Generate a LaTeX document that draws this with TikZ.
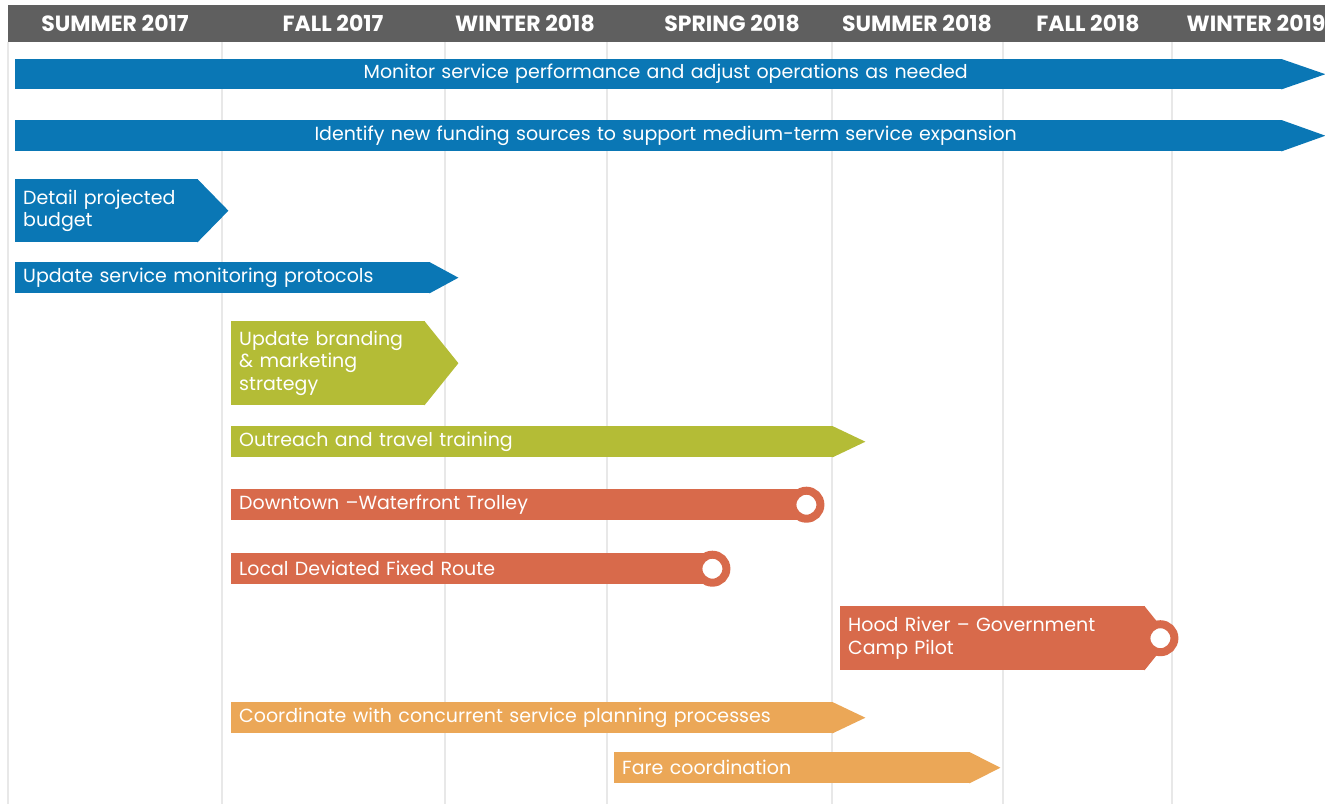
\documentclass[tikz,border=0pt]{standalone}
\usepackage{fontspec}
\setmainfont{Poppins}
\usepackage{tikz}
\usetikzlibrary{positioning}
\definecolor{headgray}{HTML}{5F5F5F}
\definecolor{gridgray}{HTML}{E8E8E8}
\definecolor{blueb}{HTML}{0A77B5}
\definecolor{greenb}{HTML}{B4BC36}
\definecolor{redb}{HTML}{D86A4B}
\definecolor{orangeb}{HTML}{EBA757}
\tikzstyle{task} = [rectangle, anchor=north west, inner xsep=8pt, inner ysep=0pt, align=left, text=white, font=\fontsize{19}{22.5}\selectfont]
\tikzstyle{season} = [text=white, font=\fontsize{22}{24}\selectfont\bfseries]
\tikzstyle{ring} = [circle, fill=white, draw=redb, line width=8pt, minimum size=28pt, inner sep=0pt]
\tikzstyle{gridline} = [draw=gridgray, line width=1.5pt]

\begin{document}
\begin{tikzpicture}[x=1pt, y=-1pt]
		\useasboundingbox (0,0) rectangle (1325,804);
		
		% season columns
		\foreach \x in {8,222,445,607,832,1003,1172}
			\draw [gridline] (\x,42) -- (\x,804);
		\fill [headgray] (8,5) rectangle (1325,42);
		\node (s1) [season] at (115,23) {SUMMER 2017};
		\node (s2) [season] at (333,23) {FALL 2017};
		\node (s3) [season] at (525,23) {WINTER 2018};
		\node (s4) [season] at (732,23) {SPRING 2018};
		\node (s5) [season] at (917,23) {SUMMER 2018};
		\node (s6) [season] at (1088,23) {FALL 2018};
		\node (s7) [season] at (1256,23) {WINTER 2019};
		
		% blue tasks
		\node (monitor) [task, fill=blueb, align=center, text width=1251pt, minimum height=30pt] at (15,59) {\hspace*{34pt}Monitor service performance and adjust operations as needed};
		\node (funding) [task, fill=blueb, align=center, text width=1251pt, minimum height=31pt] at (15,120) {\hspace*{34pt}Identify new funding sources to support medium-term service expansion};
		\node (budget) [task, fill=blueb, text width=167pt, minimum height=63pt] at (15,179) {Detail projected\\budget};
		\node (protocols) [task, fill=blueb, text width=399pt, minimum height=31pt] at (15,262) {Update service monitoring protocols};
		\fill [blueb] ([xshift=-1pt]monitor.north east) -- ([xshift=43pt]monitor.east) -- ([xshift=-1pt]monitor.south east) -- cycle;
		\fill [blueb] ([xshift=-1pt]funding.north east) -- ([xshift=43pt]funding.east) -- ([xshift=-1pt]funding.south east) -- cycle;
		\fill [blueb] ([xshift=-1pt]budget.north east) -- ([xshift=30pt]budget.east) -- ([xshift=-1pt]budget.south east) -- cycle;
		\fill [blueb] ([xshift=-1pt]protocols.north east) -- ([xshift=28pt]protocols.east) -- ([xshift=-1pt]protocols.south east) -- cycle;
		
		% green tasks
		\node (branding) [task, fill=greenb, text width=178pt, minimum height=84pt] at (231,321) {Update branding\\\& marketing\\strategy};
		\node (outreach) [task, fill=greenb, text width=586pt, minimum height=31pt] at (231,426) {Outreach and travel training};
		\fill [greenb] ([xshift=-1pt]branding.north east) -- ([xshift=33pt]branding.east) -- ([xshift=-1pt]branding.south east) -- cycle;
		\fill [greenb] ([xshift=-1pt]outreach.north east) -- ([xshift=32pt]outreach.east) -- ([xshift=-1pt]outreach.south east) -- cycle;
		
		% service pilots
		\node (trolley) [task, fill=redb, text width=559pt, minimum height=31pt] at (231,489) {Downtown --Waterfront Trolley};
		\node (route) [task, fill=redb, text width=465pt, minimum height=31pt] at (231,553) {Local Deviated Fixed Route};
		\node (hood) [task, fill=redb, text width=289pt, minimum height=64pt] at (840,606) {Hood River -- Government\\Camp Pilot};
		\fill [redb] ([xshift=-1pt]hood.north east) -- ([xshift=25pt]hood.east) -- ([xshift=-1pt]hood.south east) -- cycle;
		\node (trolleyend) [ring] at (trolley.east) {};
		\node (routeend) [ring] at (route.east) {};
		\node (hoodend) [ring] at ([xshift=15pt]hood.east) {};
		
		% coordination
		\node (planning) [task, fill=orangeb, text width=586pt, minimum height=31pt] at (231,702) {Coordinate with concurrent service planning processes};
		\node (fare) [task, fill=orangeb, text width=340pt, minimum height=31pt] at (614,752) {Fare coordination};
		\fill [orangeb] ([xshift=-1pt]planning.north east) -- ([xshift=32pt]planning.east) -- ([xshift=-1pt]planning.south east) -- cycle;
		\fill [orangeb] ([xshift=-1pt]fare.north east) -- ([xshift=30pt]fare.east) -- ([xshift=-1pt]fare.south east) -- cycle;
		
\end{tikzpicture}
\end{document}
